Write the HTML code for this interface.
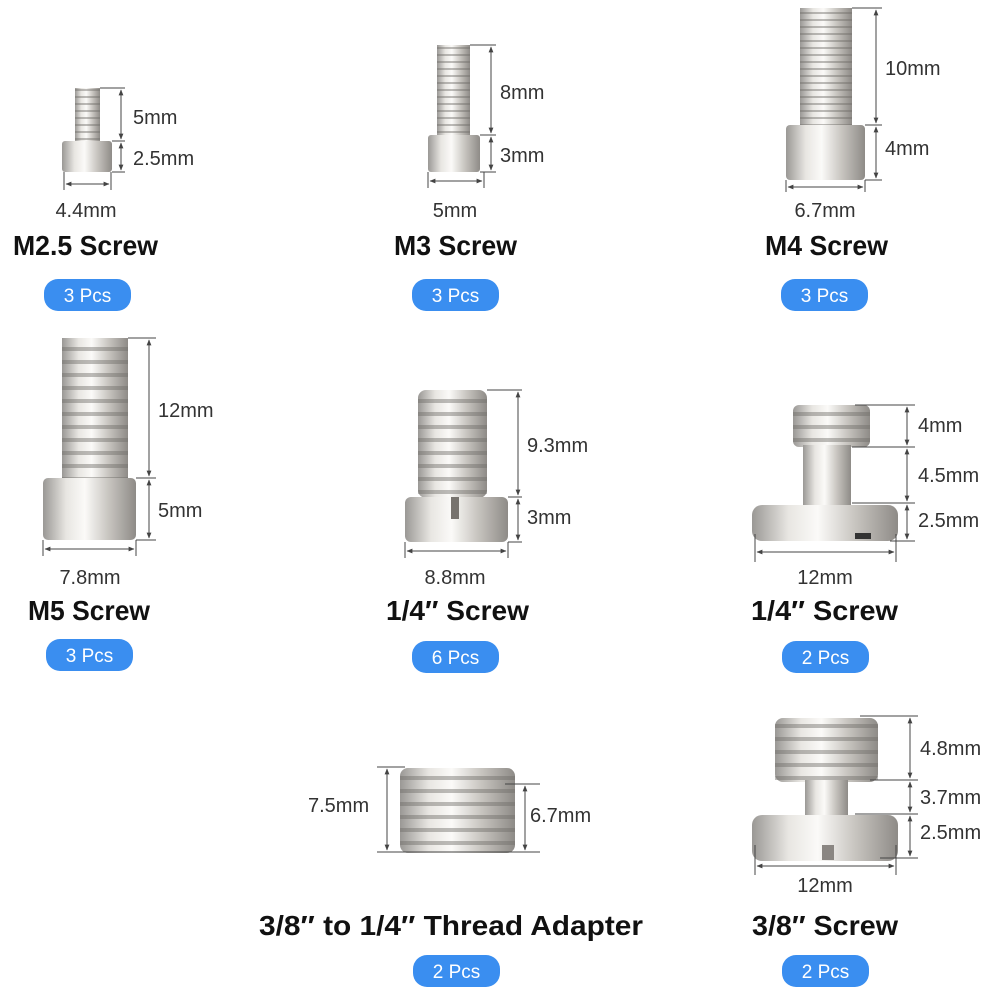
<!DOCTYPE html>
<html><head><meta charset="utf-8"><style>
html,body{margin:0;padding:0;background:#fff}
svg{display:block}
.t{font-family:"Liberation Sans",sans-serif;font-size:20px;fill:#333}
.h{font-family:"Liberation Sans",sans-serif;font-size:28px;font-weight:bold;fill:#111}
.p{font-family:"Liberation Sans",sans-serif;font-size:19px;fill:#fff}
.d{stroke:#444;stroke-width:1;fill:none}
</style></head><body>
<svg width="1000" height="1000" viewBox="0 0 1000 1000" xmlns="http://www.w3.org/2000/svg">
<defs>
<linearGradient id="m" x1="0" x2="1" y1="0" y2="0">
<stop offset="0" stop-color="#9a9895"/><stop offset="0.25" stop-color="#e8e6e2"/><stop offset="0.45" stop-color="#fbfaf8"/><stop offset="0.7" stop-color="#c9c6c1"/><stop offset="1" stop-color="#8e8b87"/></linearGradient>
<pattern id="th" width="10" height="7" patternUnits="userSpaceOnUse"><rect width="10" height="7" fill="none"/><rect y="5" width="10" height="2" fill="#6f6c68" opacity="0.45"/></pattern>
<pattern id="th2" width="10" height="13" patternUnits="userSpaceOnUse"><rect y="9" width="10" height="4" fill="#6f6c68" opacity="0.45"/></pattern>
<marker id="a" viewBox="0 0 10 10" refX="9" refY="5" markerWidth="6" markerHeight="6" orient="auto-start-reverse"><path d="M0,1 L10,5 L0,9 z" fill="#444"/></marker>
</defs>

<!-- M2.5 -->
<rect x="75" y="88" width="25" height="53" fill="url(#m)"/><rect x="75" y="88" width="25" height="53" fill="url(#th)"/>
<rect x="62" y="141" width="50" height="31" rx="3" fill="url(#m)"/>
<line class="d" x1="100" y1="88" x2="125" y2="88"/><line class="d" x1="112" y1="141" x2="125" y2="141"/><line class="d" x1="112" y1="172" x2="125" y2="172"/>
<line class="d" x1="121" y1="90" x2="121" y2="139" marker-start="url(#a)" marker-end="url(#a)"/>
<line class="d" x1="121" y1="143" x2="121" y2="170" marker-start="url(#a)" marker-end="url(#a)"/>
<line class="d" x1="64" y1="172" x2="64" y2="190"/><line class="d" x1="111" y1="172" x2="111" y2="190"/>
<line class="d" x1="66" y1="184" x2="109" y2="184" marker-start="url(#a)" marker-end="url(#a)"/>
<text class="t" x="133" y="124">5mm</text><text class="t" x="133" y="165">2.5mm</text>
<text class="t" x="86" y="217" text-anchor="middle">4.4mm</text>
<text class="h" x="13" y="255" textLength="145" lengthAdjust="spacingAndGlyphs">M2.5 Screw</text>
<rect x="44" y="279" width="87" height="32" rx="14" fill="#3a8ef0"/><text class="p" x="87.5" y="302" text-anchor="middle">3 Pcs</text>

<!-- M3 -->
<rect x="437" y="45" width="33" height="90" fill="url(#m)"/><rect x="437" y="45" width="33" height="90" fill="url(#th)"/>
<rect x="428" y="135" width="52" height="37" rx="3" fill="url(#m)"/>
<line class="d" x1="470" y1="45" x2="496" y2="45"/><line class="d" x1="480" y1="135" x2="496" y2="135"/><line class="d" x1="480" y1="172" x2="496" y2="172"/>
<line class="d" x1="491" y1="47" x2="491" y2="133" marker-start="url(#a)" marker-end="url(#a)"/>
<line class="d" x1="491" y1="137" x2="491" y2="170" marker-start="url(#a)" marker-end="url(#a)"/>
<line class="d" x1="428" y1="172" x2="428" y2="188"/><line class="d" x1="484" y1="172" x2="484" y2="188"/>
<line class="d" x1="430" y1="181" x2="482" y2="181" marker-start="url(#a)" marker-end="url(#a)"/>
<text class="t" x="500" y="99">8mm</text><text class="t" x="500" y="162">3mm</text>
<text class="t" x="455" y="217" text-anchor="middle">5mm</text>
<text class="h" x="394" y="255" textLength="123" lengthAdjust="spacingAndGlyphs">M3 Screw</text>
<rect x="412" y="279" width="87" height="32" rx="14" fill="#3a8ef0"/><text class="p" x="455.5" y="302" text-anchor="middle">3 Pcs</text>

<!-- M4 -->
<rect x="800" y="8" width="52" height="118" fill="url(#m)"/><rect x="800" y="8" width="52" height="118" fill="url(#th)"/>
<rect x="786" y="125" width="79" height="55" rx="4" fill="url(#m)"/>
<line class="d" x1="852" y1="8" x2="882" y2="8"/><line class="d" x1="865" y1="125" x2="882" y2="125"/><line class="d" x1="865" y1="180" x2="882" y2="180"/>
<line class="d" x1="876" y1="10" x2="876" y2="123" marker-start="url(#a)" marker-end="url(#a)"/>
<line class="d" x1="876" y1="127" x2="876" y2="178" marker-start="url(#a)" marker-end="url(#a)"/>
<line class="d" x1="786" y1="180" x2="786" y2="192"/><line class="d" x1="865" y1="180" x2="865" y2="192"/>
<line class="d" x1="788" y1="187" x2="863" y2="187" marker-start="url(#a)" marker-end="url(#a)"/>
<text class="t" x="885" y="75">10mm</text><text class="t" x="885" y="155">4mm</text>
<text class="t" x="825" y="217" text-anchor="middle">6.7mm</text>
<text class="h" x="765" y="255" textLength="123" lengthAdjust="spacingAndGlyphs">M4 Screw</text>
<rect x="781" y="279" width="87" height="32" rx="14" fill="#3a8ef0"/><text class="p" x="824.5" y="302" text-anchor="middle">3 Pcs</text>

<!-- M5 -->
<rect x="62" y="338" width="66" height="140" fill="url(#m)"/><rect x="62" y="338" width="66" height="140" fill="url(#th2)"/>
<rect x="43" y="478" width="93" height="62" rx="5" fill="url(#m)"/>
<line class="d" x1="128" y1="338" x2="156" y2="338"/><line class="d" x1="136" y1="478" x2="156" y2="478"/><line class="d" x1="136" y1="540" x2="156" y2="540"/>
<line class="d" x1="149" y1="340" x2="149" y2="476" marker-start="url(#a)" marker-end="url(#a)"/>
<line class="d" x1="149" y1="480" x2="149" y2="538" marker-start="url(#a)" marker-end="url(#a)"/>
<line class="d" x1="43" y1="540" x2="43" y2="556"/><line class="d" x1="136" y1="540" x2="136" y2="556"/>
<line class="d" x1="45" y1="549" x2="134" y2="549" marker-start="url(#a)" marker-end="url(#a)"/>
<text class="t" x="158" y="417">12mm</text><text class="t" x="158" y="517">5mm</text>
<text class="t" x="90" y="584" text-anchor="middle">7.8mm</text>
<text class="h" x="28" y="620" textLength="122" lengthAdjust="spacingAndGlyphs">M5 Screw</text>
<rect x="46" y="639" width="87" height="32" rx="14" fill="#3a8ef0"/><text class="p" x="89.5" y="662" text-anchor="middle">3 Pcs</text>

<!-- 1/4 screw slotted -->
<rect x="418" y="390" width="69" height="108" rx="8" fill="url(#m)"/><rect x="418" y="395" width="69" height="103" fill="url(#th2)"/>
<rect x="405" y="497" width="103" height="45" rx="6" fill="url(#m)"/>
<rect x="451" y="497" width="8" height="22" fill="#77736e"/>
<line class="d" x1="487" y1="390" x2="522" y2="390"/><line class="d" x1="508" y1="497" x2="522" y2="497"/><line class="d" x1="508" y1="542" x2="522" y2="542"/>
<line class="d" x1="518" y1="392" x2="518" y2="495" marker-start="url(#a)" marker-end="url(#a)"/>
<line class="d" x1="518" y1="499" x2="518" y2="540" marker-start="url(#a)" marker-end="url(#a)"/>
<line class="d" x1="405" y1="542" x2="405" y2="558"/><line class="d" x1="508" y1="542" x2="508" y2="558"/>
<line class="d" x1="407" y1="551" x2="506" y2="551" marker-start="url(#a)" marker-end="url(#a)"/>
<text class="t" x="527" y="452">9.3mm</text><text class="t" x="527" y="524">3mm</text>
<text class="t" x="455" y="584" text-anchor="middle">8.8mm</text>
<text class="h" x="386" y="620" textLength="143" lengthAdjust="spacingAndGlyphs">1/4″  Screw</text>
<rect x="412" y="641" width="87" height="32" rx="14" fill="#3a8ef0"/><text class="p" x="455.5" y="664" text-anchor="middle">6 Pcs</text>

<!-- 1/4 D-ring screw -->
<rect x="793" y="405" width="77" height="42" rx="6" fill="url(#m)"/><rect x="793" y="407" width="77" height="40" fill="url(#th2)"/>
<rect x="803" y="445" width="48" height="62" fill="url(#m)"/>
<rect x="752" y="505" width="146" height="36" rx="10" fill="url(#m)"/>
<rect x="855" y="533" width="16" height="6" fill="#333"/>
<line class="d" x1="855" y1="405" x2="915" y2="405"/><line class="d" x1="852" y1="447" x2="915" y2="447"/><line class="d" x1="852" y1="503" x2="915" y2="503"/><line class="d" x1="890" y1="541" x2="915" y2="541"/>
<line class="d" x1="907" y1="407" x2="907" y2="445" marker-start="url(#a)" marker-end="url(#a)"/>
<line class="d" x1="907" y1="449" x2="907" y2="501" marker-start="url(#a)" marker-end="url(#a)"/>
<line class="d" x1="907" y1="505" x2="907" y2="539" marker-start="url(#a)" marker-end="url(#a)"/>
<line class="d" x1="755" y1="534" x2="755" y2="562"/><line class="d" x1="896" y1="534" x2="896" y2="562"/>
<line class="d" x1="757" y1="552" x2="894" y2="552" marker-start="url(#a)" marker-end="url(#a)"/>
<text class="t" x="918" y="432">4mm</text><text class="t" x="918" y="482">4.5mm</text><text class="t" x="918" y="527">2.5mm</text>
<text class="t" x="825" y="584" text-anchor="middle">12mm</text>
<text class="h" x="751" y="620" textLength="147" lengthAdjust="spacingAndGlyphs">1/4″  Screw</text>
<rect x="782" y="641" width="87" height="32" rx="14" fill="#3a8ef0"/><text class="p" x="825.5" y="664" text-anchor="middle">2 Pcs</text>

<!-- Adapter -->
<rect x="400" y="768" width="115" height="85" rx="8" fill="url(#m)"/><rect x="400" y="775" width="115" height="78" fill="url(#th2)"/>
<line class="d" x1="377" y1="767" x2="405" y2="767"/><line class="d" x1="377" y1="852" x2="540" y2="852"/><line class="d" x1="505" y1="784" x2="540" y2="784"/>
<line class="d" x1="387" y1="769" x2="387" y2="850" marker-start="url(#a)" marker-end="url(#a)"/>
<line class="d" x1="525" y1="786" x2="525" y2="850" marker-start="url(#a)" marker-end="url(#a)"/>
<text class="t" x="308" y="812">7.5mm</text><text class="t" x="530" y="822">6.7mm</text>
<text class="h" x="259" y="935" textLength="384" lengthAdjust="spacingAndGlyphs">3/8″  to 1/4″  Thread Adapter</text>
<rect x="413" y="955" width="87" height="32" rx="14" fill="#3a8ef0"/><text class="p" x="456.5" y="978" text-anchor="middle">2 Pcs</text>

<!-- 3/8 screw -->
<rect x="775" y="718" width="103" height="64" rx="8" fill="url(#m)"/><rect x="775" y="721" width="103" height="61" fill="url(#th2)"/>
<rect x="805" y="780" width="43" height="37" fill="url(#m)"/>
<rect x="752" y="815" width="146" height="46" rx="10" fill="url(#m)"/>
<rect x="822" y="845" width="12" height="15" fill="#8a8682"/>
<line class="d" x1="860" y1="716" x2="918" y2="716"/><line class="d" x1="870" y1="780" x2="918" y2="780"/><line class="d" x1="855" y1="814" x2="918" y2="814"/><line class="d" x1="880" y1="858" x2="918" y2="858"/>
<line class="d" x1="910" y1="718" x2="910" y2="778" marker-start="url(#a)" marker-end="url(#a)"/>
<line class="d" x1="910" y1="782" x2="910" y2="812" marker-start="url(#a)" marker-end="url(#a)"/>
<line class="d" x1="910" y1="816" x2="910" y2="856" marker-start="url(#a)" marker-end="url(#a)"/>
<line class="d" x1="755" y1="845" x2="755" y2="875"/><line class="d" x1="896" y1="845" x2="896" y2="875"/>
<line class="d" x1="757" y1="866" x2="894" y2="866" marker-start="url(#a)" marker-end="url(#a)"/>
<text class="t" x="920" y="755">4.8mm</text><text class="t" x="920" y="804">3.7mm</text><text class="t" x="920" y="839">2.5mm</text>
<text class="t" x="825" y="892" text-anchor="middle">12mm</text>
<text class="h" x="752" y="935" textLength="146" lengthAdjust="spacingAndGlyphs">3/8″  Screw</text>
<rect x="782" y="955" width="87" height="32" rx="14" fill="#3a8ef0"/><text class="p" x="825.5" y="978" text-anchor="middle">2 Pcs</text>
</svg>
</body></html>
